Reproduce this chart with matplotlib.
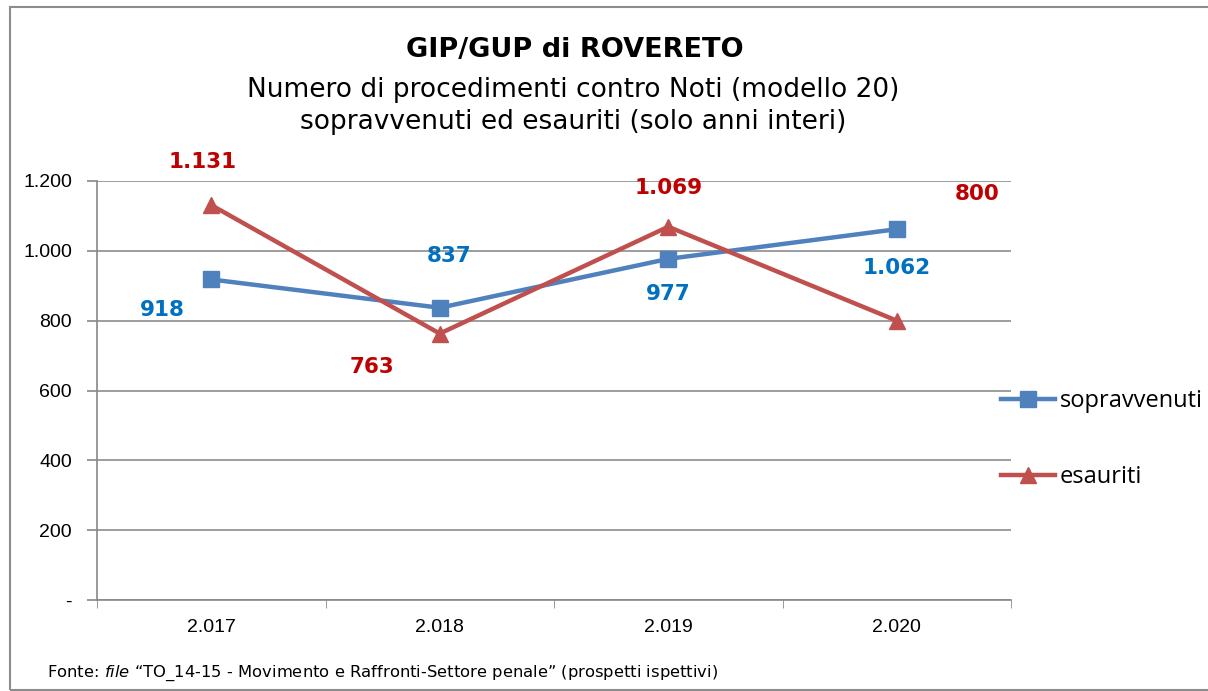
import matplotlib
matplotlib.use("Agg")
import matplotlib.pyplot as plt
from matplotlib.patches import Rectangle

years = ["2.017", "2.018", "2.019", "2.020"]
sopravvenuti = [918, 837, 977, 1062]
esauriti = [1131, 763, 1069, 800]
y_ticks = [0, 200, 400, 600, 800, 1000, 1200]
y_tick_labels = ["-", "200", "400", "600", "800", "1.000", "1.200"]

def fmt(v):
    return f"{v:,}".replace(",", ".")

fig = plt.figure(figsize=(12.08, 6.91), dpi=100)
fig.patch.set_facecolor("white")
fig.add_artist(Rectangle((10/1208, 1 - 690/691), 1.2, 683/691, transform=fig.transFigure,
                         fill=False, edgecolor="#8c8c8c", lw=1.5))

ax = fig.add_axes([97/1208, 91/691, 914/1208, 419/691])
x = [i + 0.5 for i in range(len(years))]

l1, = ax.plot(x, sopravvenuti, color="#4F81BD", lw=3.2, marker="s", markersize=11,
              label="sopravvenuti", zorder=3)
l2, = ax.plot(x, esauriti, color="#C0504D", lw=3.2, marker="^", markersize=12,
              label="esauriti", zorder=3)

ax.set_xlim(0, len(years))
ax.set_ylim(0, 1200)
ax.set_yticks(y_ticks)
ax.set_yticklabels(y_tick_labels, family="Liberation Sans", fontsize=14)
ax.set_xticks(x)
ax.set_xticklabels(years, family="Liberation Sans", fontsize=14)
ax.set_xticks(range(len(years) + 1), minor=True)
ax.tick_params(axis="x", which="major", length=0, pad=14)
ax.tick_params(axis="x", which="minor", length=6, color="#888888", direction="out")
ax.tick_params(axis="y", length=7, color="#888888", width=1.2, pad=11)
ax.grid(axis="y", color="#8c8c8c", lw=1.2)
for s in ["top", "right"]:
    ax.spines[s].set_visible(False)
for s in ["bottom", "left"]:
    ax.spines[s].set_color("#888888")
    ax.spines[s].set_linewidth(1.2)

off_s = [(-35, -22), (7, 37), (0, -25), (0, -28)]
off_e = [(-6, 31), (-49, -24), (0, 28), (58, 91)]
for xi, v, o in zip(x, sopravvenuti, off_s):
    ax.annotate(fmt(v), (xi, v), xytext=o, textcoords="offset points", ha="center", va="center",
                color="#0070C0", fontsize=15.5, fontweight="bold", annotation_clip=False)
for xi, v, o in zip(x, esauriti, off_e):
    ax.annotate(fmt(v), (xi, v), xytext=o, textcoords="offset points", ha="center", va="center",
                color="#C00000", fontsize=15.5, fontweight="bold", annotation_clip=False)

fig.text(575/1208, 1 - 50/691, "GIP/GUP di ROVERETO", ha="center", va="center",
         fontsize=19.5, fontweight="bold")
fig.text(573/1208, 1 - 90/691, "Numero di procedimenti contro Noti (modello 20)", ha="center",
         va="center", fontsize=19)
fig.text(573/1208, 1 - 122/691, "sopravvenuti ed esauriti (solo anni interi)", ha="center",
         va="center", fontsize=19)

fig.text(47/1208, 1 - 673/691,
         r"Fonte: $\it{file}$ “TO_14-15 - Movimento e Raffronti-Settore penale” (prospetti ispettivi)",
         ha="left", va="center", fontsize=11.8)

fig.legend(handles=[l1, l2], loc="center left", bbox_to_anchor=(1001/1208, 1 - 439/691),
           frameon=False, prop={"family": "Open Sans", "size": 17}, labelspacing=2.2,
           handlelength=2.3, handletextpad=0.2, borderpad=0, borderaxespad=0)

fig.savefig("out.png", dpi=100)
